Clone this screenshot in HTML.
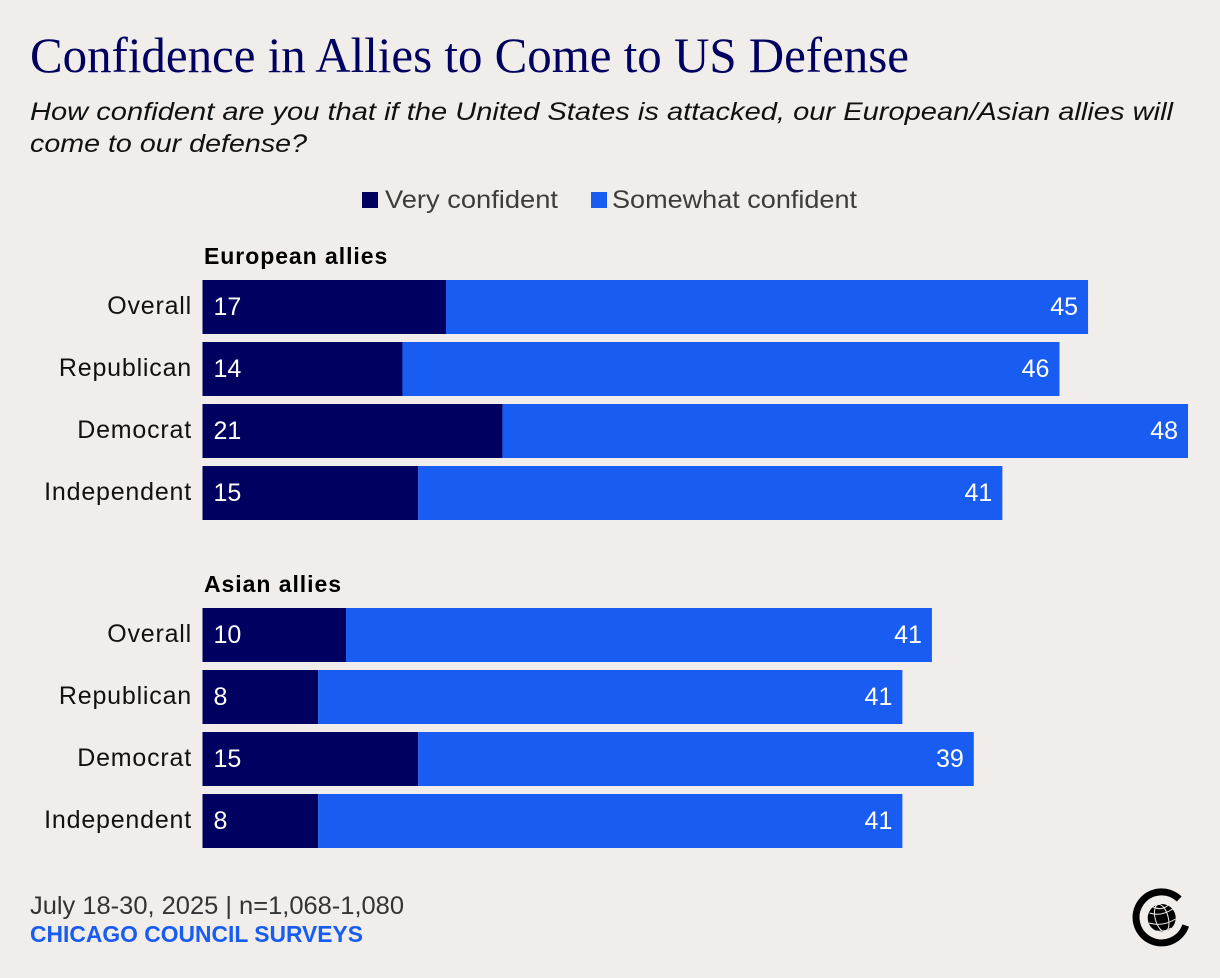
<!DOCTYPE html>
<html lang="en">
<head>
<meta charset="utf-8">
<title>Confidence in Allies to Come to US Defense</title>
<style>
html,body{margin:0;padding:0;background:#f0edea;}
svg{display:block;}
text{font-family:"Liberation Sans",sans-serif;}
</style>
</head>
<body>
<svg id="chart" xmlns="http://www.w3.org/2000/svg" width="1220" height="978" viewBox="0 0 1220 978">
  <rect width="1220" height="978" fill="#f0edea"/>
  <text x="30" y="72" style="font-family:'Liberation Serif',serif" font-size="50" fill="#000060" textLength="879" lengthAdjust="spacingAndGlyphs">Confidence in Allies to Come to US Defense</text>
  <text x="30" y="120" font-size="25" font-style="italic" fill="#111" textLength="1143" lengthAdjust="spacingAndGlyphs">How confident are you that if the United States is attacked, our European/Asian allies will</text>
  <text x="30" y="152" font-size="25" font-style="italic" fill="#111" textLength="277" lengthAdjust="spacingAndGlyphs">come to our defense?</text>

  <g>
    <rect x="362" y="192" width="16" height="16" fill="#000060"/>
    <text x="385" y="208" font-size="25" fill="#3c3c3c" textLength="173" lengthAdjust="spacingAndGlyphs">Very confident</text>
    <rect x="591" y="192" width="16" height="16" fill="#185cf2"/>
    <text x="612" y="208" font-size="25" fill="#3c3c3c" textLength="245" lengthAdjust="spacingAndGlyphs">Somewhat confident</text>
  </g>

  <g id="plot"></g>

  <text x="30" y="914" font-size="25" fill="#333" textLength="374" lengthAdjust="spacingAndGlyphs">July 18-30, 2025 | n=1,068-1,080</text>
  <text x="30" y="942" font-size="23" font-weight="bold" fill="#185cf2" textLength="333" lengthAdjust="spacingAndGlyphs">CHICAGO COUNCIL SURVEYS</text>

  <g>
    <path d="M1179.2 899 A25.5 25.5 0 1 0 1185.7 925.5" fill="none" stroke="#000" stroke-width="7"/>
    <circle cx="1161.7" cy="918" r="14" fill="#000"/>
    <g fill="none" stroke="#f0edea" stroke-width="1">
      <ellipse cx="1161.7" cy="918" rx="6.5" ry="14" transform="rotate(-15 1161.7 918)"/>
      <path d="M1149.5 913 Q1162 917 1174 908"/>
      <path d="M1149 923 Q1163 927 1175.5 919"/>
      <path d="M1153 907 Q1161 911 1168 905.5"/>
      <path d="M1156 931 Q1165 932 1171 928"/>
    </g>
  </g>
</svg>
<script>
var groups = ["European allies", "Asian allies"];
var categories = ["Overall", "Republican", "Democrat", "Independent"];
var veryConfident = [
  [17.05, 14, 21, 15.1],
  [10.05, 8.1, 15.1, 8.1]
];
var somewhatConfident = [
  [44.95, 46, 48, 40.9],
  [41.02, 40.9, 38.9, 40.9]
];

var NS = "http://www.w3.org/2000/svg";
var plot = document.getElementById("plot");
var X0 = 202.5, UNIT = 14.283, BAR_H = 54, STEP = 62, GROUP_TOPS = [280, 608];

function xScale(v) { return X0 + v * UNIT; }
function rowTop(g, i) { return GROUP_TOPS[g] + i * STEP; }
function make(tag, attrs, txt) {
  var el = document.createElementNS(NS, tag);
  for (var k in attrs) el.setAttribute(k, attrs[k]);
  if (txt !== undefined) el.textContent = txt;
  plot.appendChild(el);
  return el;
}

groups.forEach(function (group, g) {
  var head = make("text", {x: 204, y: GROUP_TOPS[g] - 16, "font-size": 23, "font-weight": "bold", "letter-spacing": 0.95, fill: "#000"}, group);
  
  

  categories.forEach(function (cat, i) {
    var top = rowTop(g, i), v = veryConfident[g][i], s = somewhatConfident[g][i];
    var mid = top + BAR_H / 2 + 8;

    var label = make("text", {x: 192, y: mid - 1, "font-size": 25, "letter-spacing": 0.8, "text-anchor": "end", fill: "#111"}, cat);
    
    

    var b1 = make("rect", {x: xScale(0), y: top, width: xScale(v) - xScale(0), height: BAR_H, fill: "#000060"});
    
    

    var b2 = make("rect", {x: xScale(v), y: top, width: xScale(v + s) - xScale(v), height: BAR_H, fill: "#185cf2"});
    
    

    var t1 = make("text", {x: xScale(0) + 11, y: mid, "font-size": 25, fill: "#fff"}, String(Math.round(v)));
    
    

    var t2 = make("text", {x: xScale(v + s) - 10, y: mid, "font-size": 25, "text-anchor": "end", fill: "#fff"}, String(Math.round(s)));
    
    
  });
});
</script>
</body>
</html>
